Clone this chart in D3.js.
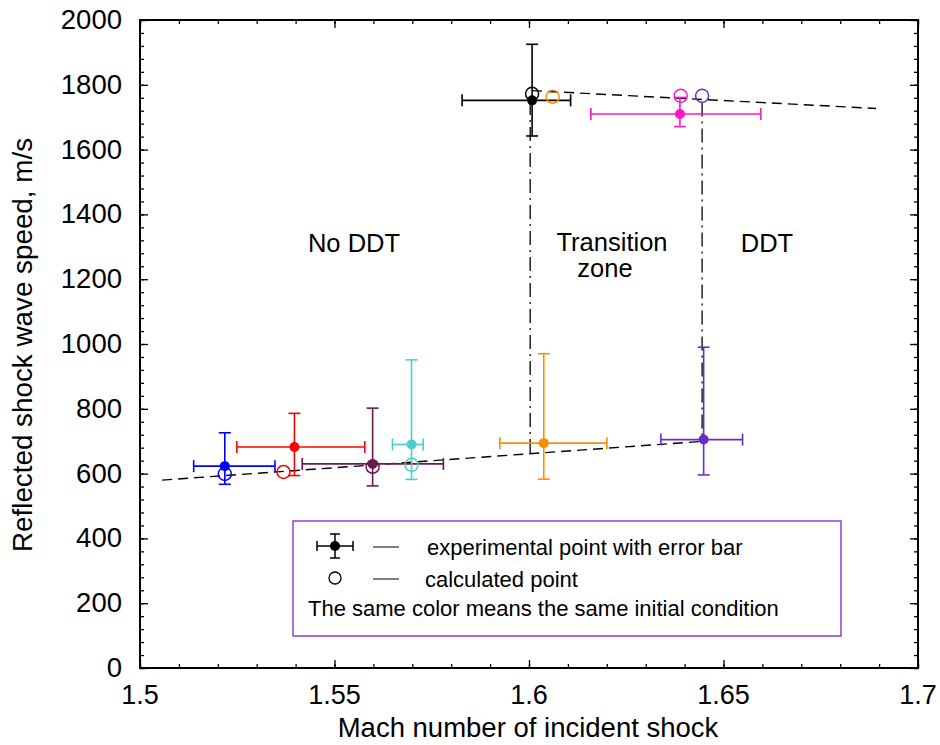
<!DOCTYPE html>
<html>
<head>
<meta charset="utf-8">
<title>Reflected shock wave speed</title>
<style>
  body { margin: 0; background: #fff; }
  text { font-family: "Liberation Sans", Arial, sans-serif; fill: #000; }
</style>
</head>
<body>
<div id="chart"></div>
<script src="https://d3js.org/d3.v7.min.js"></script>
<script>
// experimental points (filled) with error bars, one per initial condition
var expMach      = [1.5218, 1.5397, 1.5598, 1.5698, 1.6038, 1.6449, 1.6008, 1.6388];
var expMachLow   = [1.5138, 1.5249, 1.5417, 1.5649, 1.5925, 1.6339, 1.5828, 1.6159];
var expMachHigh  = [1.5347, 1.5578, 1.5780, 1.5728, 1.6200, 1.6549, 1.6107, 1.6596];
var expSpeed     = [623, 682, 630, 690, 694, 705, 1752, 1710];
var expSpeedLow  = [567, 594, 562, 582, 583, 596, 1642, 1671];
var expSpeedHigh = [726, 786, 802, 951, 970, 990, 1925, 1761];
// calculated points (open circles)
var calcMach  = [1.5218, 1.5369, 1.5598, 1.5698, 1.6061, 1.6445, 1.6008, 1.6390];
var calcSpeed = [599, 605, 621, 627, 1763, 1766, 1772, 1766];
var colors = ["#0000ff", "#ff0000", "#6a1a50", "#48d1cc", "#ff8c00", "#6a2cc8", "#000000", "#ff14c8"];

// dashed trend lines and dash-dot zone boundaries
var lowerLine = [[1.5057, 580], [1.6440, 699]];
var upperLine = [[1.6008, 1782], [1.6892, 1727]];
var boundMach   = [1.6003, 1.6445];
var boundTop    = [1750, 1745];
var boundBottom = [657, 705];

var xTicks = [1.5, 1.55, 1.6, 1.65, 1.7];
var yTicks = [0, 200, 400, 600, 800, 1000, 1200, 1400, 1600, 1800, 2000];

var width = 940, height = 745;
var pLeft = 140, pRight = 918, pTop = 20, pBottom = 668;

var svg = d3.select('#chart').append('svg')
    .attr('width', width)
    .attr('height', height);

var x = d3.scaleLinear().domain([1.5, 1.7]).range([pLeft, pRight]);
var y = d3.scaleLinear().domain([0, 2000]).range([pBottom, pTop]);

// minor ticks
var xMinor = d3.range(0, 21).map(function(i) { return 1.5 + i * 0.01; });
var yMinor = d3.range(0, 51).map(function(i) { return i * 40; });

function tickAxis(axis, pos, values, size) {
    svg.append('g')
        .attr('transform', pos)
        .call(axis.tickValues(values).tickSize(size).tickFormat(''))
        .call(function(g) {
            g.select('.domain').remove();
            g.selectAll('line').attr('stroke', '#000').attr('stroke-width', 1.3);
        });
}
tickAxis(d3.axisBottom(x), 'translate(0,' + pBottom + ')', xMinor, -4);
tickAxis(d3.axisBottom(x), 'translate(0,' + pBottom + ')', xTicks, -8);
tickAxis(d3.axisTop(x), 'translate(0,' + pTop + ')', xMinor, -4);
tickAxis(d3.axisTop(x), 'translate(0,' + pTop + ')', xTicks, -8);
tickAxis(d3.axisLeft(y), 'translate(' + pLeft + ',0)', yMinor, -4);
tickAxis(d3.axisLeft(y), 'translate(' + pLeft + ',0)', yTicks, -8);
tickAxis(d3.axisRight(y), 'translate(' + pRight + ',0)', yMinor, -4);
tickAxis(d3.axisRight(y), 'translate(' + pRight + ',0)', yTicks, -8);

svg.append('rect')
    .attr('x', pLeft).attr('y', pTop)
    .attr('width', pRight - pLeft).attr('height', pBottom - pTop)
    .attr('fill', 'none').attr('stroke', '#000').attr('stroke-width', 2);

// tick labels
svg.selectAll('.xl').data(xTicks).enter().append('text')
    .attr('x', function(d) { return x(d); })
    .attr('y', 704)
    .attr('text-anchor', 'middle')
    .style('font-size', '27px')
    .text(function(d) { return d; });

svg.selectAll('.yl').data(yTicks).enter().append('text')
    .attr('x', 122)
    .attr('y', function(d) { return y(d) + 9; })
    .attr('text-anchor', 'end')
    .style('font-size', '27.5px')
    .text(function(d) { return d; });

// axis titles
svg.append('text')
    .attr('x', (pLeft + pRight) / 2 - 1).attr('y', 737)
    .attr('text-anchor', 'middle')
    .style('font-size', '27.5px')
    .text('Mach number of incident shock');

svg.append('text')
    .attr('transform', 'translate(32,345) rotate(-90)')
    .attr('text-anchor', 'middle')
    .style('font-size', '27.8px')
    .text('Reflected shock wave speed, m/s');

// trend lines
var line = d3.line().x(function(d) { return x(d[0]); }).y(function(d) { return y(d[1]); });
[lowerLine, upperLine].forEach(function(l) {
    svg.append('path')
        .attr('d', line(l))
        .attr('fill', 'none')
        .attr('stroke', '#000')
        .attr('stroke-width', 1.4)
        .attr('stroke-dasharray', '10,6');
});

boundMach.forEach(function(m, i) {
    svg.append('line')
        .attr('x1', x(m)).attr('x2', x(m))
        .attr('y1', y(boundTop[i])).attr('y2', y(boundBottom[i]))
        .attr('stroke', '#000')
        .attr('stroke-width', 1.3)
        .attr('stroke-dasharray', '14,5,2,5');
});

// zone labels
svg.append('text').attr('x', 354).attr('y', 252).attr('text-anchor', 'middle')
    .style('font-size', '25.5px').text('No DDT');
svg.append('text').attr('x', 612).attr('y', 251).attr('text-anchor', 'middle')
    .style('font-size', '25.5px').text('Transition');
svg.append('text').attr('x', 605).attr('y', 277).attr('text-anchor', 'middle')
    .style('font-size', '25.5px').text('zone');
svg.append('text').attr('x', 767).attr('y', 252).attr('text-anchor', 'middle')
    .style('font-size', '25.5px').text('DDT');

// error bars + points
var cap = 6;
var idx = d3.range(expMach.length);
var bars = svg.selectAll('.eb').data(idx).enter().append('g')
    .attr('stroke', function(i) { return colors[i]; })
    .attr('stroke-width', 1.6)
    .attr('fill', 'none');

bars.append('line')
    .attr('x1', function(i) { return x(expMachLow[i]); })
    .attr('x2', function(i) { return x(expMachHigh[i]); })
    .attr('y1', function(i) { return y(expSpeed[i]); })
    .attr('y2', function(i) { return y(expSpeed[i]); });
bars.append('line')
    .attr('x1', function(i) { return x(expMach[i]); })
    .attr('x2', function(i) { return x(expMach[i]); })
    .attr('y1', function(i) { return y(expSpeedLow[i]); })
    .attr('y2', function(i) { return y(expSpeedHigh[i]); });
[expMachLow, expMachHigh].forEach(function(arr) {
    bars.append('line')
        .attr('x1', function(i) { return x(arr[i]); })
        .attr('x2', function(i) { return x(arr[i]); })
        .attr('y1', function(i) { return y(expSpeed[i]) - cap; })
        .attr('y2', function(i) { return y(expSpeed[i]) + cap; });
});
[expSpeedLow, expSpeedHigh].forEach(function(arr) {
    bars.append('line')
        .attr('x1', function(i) { return x(expMach[i]) - cap; })
        .attr('x2', function(i) { return x(expMach[i]) + cap; })
        .attr('y1', function(i) { return y(arr[i]); })
        .attr('y2', function(i) { return y(arr[i]); });
});

svg.selectAll('.calc').data(idx).enter().append('circle')
    .attr('cx', function(i) { return x(calcMach[i]); })
    .attr('cy', function(i) { return y(calcSpeed[i]); })
    .attr('r', 6.5)
    .attr('fill', 'none')
    .attr('stroke', function(i) { return colors[i]; })
    .attr('stroke-width', 1.5);

svg.selectAll('.pt').data(idx).enter().append('circle')
    .attr('cx', function(i) { return x(expMach[i]); })
    .attr('cy', function(i) { return y(expSpeed[i]); })
    .attr('r', 5)
    .attr('fill', function(i) { return colors[i]; });

// legend
var lg = svg.append('g');
lg.append('rect')
    .attr('x', 293).attr('y', 521).attr('width', 548).attr('height', 115)
    .attr('fill', '#fff').attr('stroke', '#8a2fd6').attr('stroke-width', 1.4);

var sx = 335, sy = 546;
lg.append('line').attr('x1', sx - 18).attr('x2', sx + 18).attr('y1', sy).attr('y2', sy)
    .attr('stroke', '#000').attr('stroke-width', 1.5);
lg.append('line').attr('x1', sx).attr('x2', sx).attr('y1', sy - 12).attr('y2', sy + 12)
    .attr('stroke', '#000').attr('stroke-width', 1.5);
[[sx - 18, sy - 5, sx - 18, sy + 5], [sx + 18, sy - 5, sx + 18, sy + 5],
 [sx - 5, sy - 12, sx + 5, sy - 12], [sx - 5, sy + 12, sx + 5, sy + 12]].forEach(function(c) {
    lg.append('line').attr('x1', c[0]).attr('y1', c[1]).attr('x2', c[2]).attr('y2', c[3])
        .attr('stroke', '#000').attr('stroke-width', 1.5);
});
lg.append('circle').attr('cx', sx).attr('cy', sy).attr('r', 5).attr('fill', '#000');
lg.append('circle').attr('cx', sx).attr('cy', 578).attr('r', 6).attr('fill', 'none')
    .attr('stroke', '#000').attr('stroke-width', 1.3);
[547, 579].forEach(function(yy) {
    lg.append('line').attr('x1', 373).attr('x2', 399).attr('y1', yy).attr('y2', yy)
        .attr('stroke', '#000').attr('stroke-width', 1);
});
lg.append('text').attr('x', 427).attr('y', 555).style('font-size', '22px')
    .text('experimental point with error bar');
lg.append('text').attr('x', 425).attr('y', 587).style('font-size', '22px')
    .text('calculated point');
lg.append('text').attr('x', 308).attr('y', 616).style('font-size', '22px')
    .text('The same color means the same initial condition');
</script>
</body>
</html>
